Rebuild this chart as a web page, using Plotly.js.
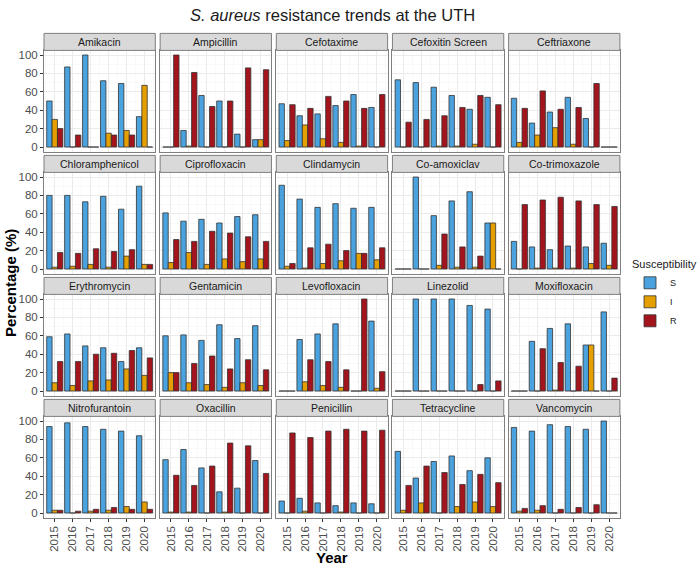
<!DOCTYPE html>
<html>
<head>
<meta charset="utf-8">
<script src="https://cdn.plot.ly/plotly-3.0.1.min.js"></script>
<style>html,body{margin:0;padding:0;background:#fff;}#chart{width:700px;height:565px;}</style>
</head>
<body>
<div id="chart"></div>
<script>
const years = [2015, 2016, 2017, 2018, 2019, 2020];
const antibiotics = ['Amikacin','Ampicillin','Cefotaxime','Cefoxitin Screen','Ceftriaxone',
  'Chloramphenicol','Ciprofloxacin','Clindamycin','Co-amoxiclav','Co-trimoxazole',
  'Erythromycin','Gentamicin','Levofloxacin','Linezolid','Moxifloxacin',
  'Nitrofurantoin','Oxacillin','Penicillin','Tetracycline','Vancomycin'];
const susceptible = [
  [50,87,100,72,69,33],[0,18,56,50,14,8],[47,34,36,45,57,43],[73,70,65,56,41,54],[53,26,38,54,31,0],
  [80,80,73,79,65,90],[61,52,54,50,57,59],[91,76,67,71,66,67],[0,100,58,74,84,50],[30,24,21,25,24,28],
  [59,62,49,47,32,47],[60,61,55,72,57,71],[0,56,62,73,0,76],[0,100,100,100,93,89],[0,54,68,73,50,86],
  [94,98,94,91,89,84],[58,69,49,23,27,57],[13,16,11,8,11,10],[67,38,56,62,46,60],[93,89,96,94,91,100]
];
const intermediate = [
  [30,0,0,15,18,67],[0,1,0,0,0,8],[7,24,9,5,1,0],[0,0,1,1,3,0],[5,13,21,3,0,0],
  [2,3,5,2,14,5],[7,18,5,11,8,11],[3,1,6,9,17,10],[0,0,4,2,2,50],[0,1,1,1,6,4],
  [9,6,11,12,24,17],[20,9,7,4,9,6],[0,10,6,4,0,3],[0,0,0,0,0,0],[0,0,1,0,50,0],
  [3,0,2,3,7,12],[1,1,0,1,0,0],[0,2,0,1,0,0],[3,11,0,7,12,7],[2,3,0,0,0,0]
];
const resistant = [
  [20,13,0,13,13,0],[100,81,44,50,86,84],[46,42,55,50,42,57],[27,30,34,43,56,46],[42,61,41,43,69,0],
  [18,17,22,19,21,5],[32,30,41,39,35,30],[6,23,27,20,17,23],[0,0,38,24,14,0],[70,75,78,74,70,68],
  [32,32,40,41,44,36],[20,30,38,24,34,23],[0,34,32,23,100,21],[0,0,0,0,7,11],[0,46,31,27,0,14],
  [3,2,4,6,4,4],[41,30,51,76,73,43],[87,82,89,91,89,90],[30,51,44,31,42,33],[5,8,4,6,9,0]
];
const seriesNames = ['S','I','R'];
const seriesColors = ['#4AA3DF','#E69F00','#A3141C'];
const seriesData = [susceptible, intermediate, resistant];

const W = 700, H = 565;
const nCols = 5, nRows = 4;
const colLeft0 = 44, colPitch = 116.15, panelW = 111.3;
const rowTop0 = 50.4, rowPitch = 122, panelH = 101.2, stripH = 17;

const traces = [];
const layout = {
  width: W, height: H,
  margin: {l:0, r:0, t:0, b:0},
  paper_bgcolor: '#fff', plot_bgcolor: '#fff',
  font: {family: 'Liberation Sans, Arial, sans-serif', color: '#1a1a1a'},
  barmode: 'group', bargap: 0.1, bargroupgap: 0,
  showlegend: true,
  legend: {
    x: 630/W, y: 1 - 254/H, xanchor: 'left', yanchor: 'top',
    title: {text: 'Susceptibility', font: {size: 11, color: '#1a1a1a'}},
    font: {size: 9, color: '#1a1a1a'}, tracegroupgap: 0, itemwidth: 30,
    bgcolor: 'rgba(0,0,0,0)'
  },
  shapes: [], annotations: []
};

for (let p = 0; p < antibiotics.length; p++) {
  const r = Math.floor(p / nCols), c = p % nCols;
  const x0 = colLeft0 + colPitch * c, x1 = x0 + panelW;
  const top = rowTop0 + rowPitch * r, bottom = top + panelH;
  const xa = 'xaxis' + (p === 0 ? '' : p + 1), ya = 'yaxis' + (p === 0 ? '' : p + 1);
  const xr = 'x' + (p === 0 ? '' : p + 1), yr = 'y' + (p === 0 ? '' : p + 1);
  layout[xa] = {
    domain: [x0 / W, x1 / W], anchor: yr, type: 'linear',
    range: [2014.4, 2020.6], tickvals: years, ticktext: years.map(String),
    showticklabels: r === nRows - 1, tickangle: -90,
    tickfont: {size: 11.5, color: '#4d4d4d'},
    ticks: r === nRows - 1 ? 'outside' : '', ticklen: 3, tickcolor: '#333',
    showgrid: true, gridcolor: '#ebebeb', gridwidth: 1,
    minor: {tickvals: [2014.5,2015.5,2016.5,2017.5,2018.5,2019.5,2020.5], showgrid: true, gridcolor: '#f5f5f5', gridwidth: 0.6},
    showline: true, mirror: true, linecolor: '#7f7f7f', linewidth: 1,
    zeroline: false, fixedrange: true
  };
  layout[ya] = {
    domain: [1 - bottom / H, 1 - top / H], anchor: xr,
    range: [-5, 105], tickvals: [0,20,40,60,80,100],
    showticklabels: c === 0, tickfont: {size: 11.5, color: '#4d4d4d'},
    ticks: c === 0 ? 'outside' : '', ticklen: 3, tickcolor: '#333',
    showgrid: true, gridcolor: '#ebebeb', gridwidth: 1,
    minor: {tickvals: [10,30,50,70,90], showgrid: true, gridcolor: '#f5f5f5', gridwidth: 0.6},
    showline: true, mirror: true, linecolor: '#7f7f7f', linewidth: 1,
    zeroline: false, fixedrange: true
  };
  layout.shapes.push({
    type: 'rect', xref: 'paper', yref: 'paper',
    x0: x0 / W, x1: x1 / W, y0: 1 - top / H, y1: 1 - (top - stripH) / H,
    fillcolor: '#d9d9d9', line: {color: '#7f7f7f', width: 1}, layer: 'above'
  });
  layout.annotations.push({
    text: antibiotics[p], xref: 'paper', yref: 'paper',
    x: (x0 + x1) / 2 / W, y: 1 - (top - stripH / 2) / H,
    xanchor: 'center', yanchor: 'middle', showarrow: false,
    font: {size: 10.5, color: '#1a1a1a'}
  });
  for (let s = 0; s < 3; s++) {
    traces.push({
      type: 'bar', name: seriesNames[s], legendgroup: seriesNames[s],
      showlegend: p === 0, x: years, y: seriesData[s][p],
      xaxis: xr, yaxis: yr,
      marker: {color: seriesColors[s], line: {color: '#333', width: 0.8}},
      hoverinfo: 'skip'
    });
  }
}

layout.annotations.push({
  text: '<i>S. aureus</i> resistance trends at the UTH', xref: 'paper', yref: 'paper',
  x: 332 / W, y: 1 - 15 / H, xanchor: 'center', yanchor: 'middle', showarrow: false,
  font: {size: 16.5, color: '#1a1a1a'}
});
layout.annotations.push({
  text: '<b>Percentage (%)</b>', xref: 'paper', yref: 'paper',
  x: 10 / W, y: 1 - 283 / H, xanchor: 'center', yanchor: 'middle', showarrow: false,
  textangle: -90, font: {size: 15, color: '#000'}
});
layout.annotations.push({
  text: '<b>Year</b>', xref: 'paper', yref: 'paper',
  x: 332 / W, y: 1 - 557 / H, xanchor: 'center', yanchor: 'middle', showarrow: false,
  font: {size: 15, color: '#000'}
});

Plotly.newPlot('chart', traces, layout, {staticPlot: true, displayModeBar: false});
</script>
</body>
</html>
